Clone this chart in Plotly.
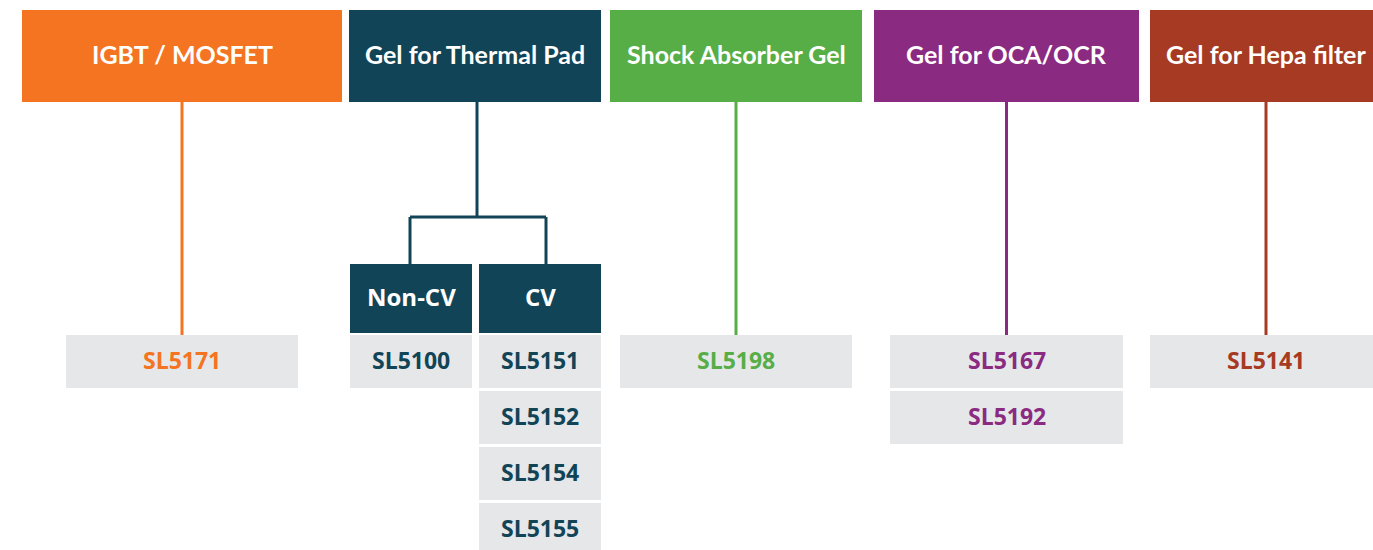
import plotly.graph_objects as go

# ---- data ----
categories = ["IGBT / MOSFET", "Gel for Thermal Pad", "Shock Absorber Gel",
              "Gel for OCA/OCR", "Gel for Hepa filter"]
category_colors = ["#F47421", "#124457", "#57AE47", "#8B2A81", "#A63A22"]
products = [["SL5171"], [], ["SL5198"], ["SL5167", "SL5192"], ["SL5141"]]
subgroups = ["Non-CV", "CV"]
subgroup_products = [["SL5100"], ["SL5151", "SL5152", "SL5154", "SL5155"]]

# ---- layout geometry ----
W, H = 1373, 550
header_x = [(22, 342), (349, 601), (610, 862), (874, 1139), (1150, 1382)]
header_y = (10, 102)
product_x = [(66, 298), None, (620, 852), (890, 1123), (1150, 1382)]
sub_x = [(350, 472), (479, 601)]
sub_y = (264, 333)
row_top, row_h, row_step = 335, 53, 56
branch_y = 217
branch_x = [410, 546]
gray = "#E6E7E8"
text_dy = -2

fig = go.Figure()
shapes, annots = [], []

def rect(x0, x1, y0, y1, color):
    shapes.append(dict(type="rect", xref="x", yref="y", x0=x0, x1=x1, y0=y0, y1=y1,
                       fillcolor=color, line=dict(width=0), layer="below"))

def line(x0, y0, x1, y1, color):
    shapes.append(dict(type="line", xref="x", yref="y", x0=x0, x1=x1, y0=y0, y1=y1,
                       line=dict(color=color, width=3)))

def text(x, y, s, color, size, family):
    annots.append(dict(x=x, y=y + text_dy, xref="x", yref="y", text="<b>%s</b>" % s,
                       showarrow=False, font=dict(color=color, size=size, family=family),
                       xanchor="center", yanchor="middle"))

hfont = "Lato"
pfont = "Open Sans"

for i, (cat, col) in enumerate(zip(categories, category_colors)):
    x0, x1 = header_x[i]
    rect(x0, x1, header_y[0], header_y[1], col)
    cx_head = (x0 + x1) / 2
    text(cx_head, (header_y[0] + header_y[1]) / 2, cat, "white", 25, hfont)
    if product_x[i] is not None:
        px0, px1 = product_x[i]
        cx = (px0 + px1) / 2
        line(cx, header_y[1], cx, row_top, col)
        for j, p in enumerate(products[i]):
            y0 = row_top + j * row_step
            rect(px0, px1, y0, y0 + row_h, gray)
            text(cx, y0 + row_h / 2, p, col, 23, pfont)
    else:
        cx = cx_head + 2
        line(cx, header_y[1], cx, branch_y, col)
        line(branch_x[0], branch_y, branch_x[1], branch_y, col)
        for k, sg in enumerate(subgroups):
            sx0, sx1 = sub_x[k]
            line(branch_x[k], branch_y, branch_x[k], sub_y[0], col)
            rect(sx0, sx1, sub_y[0], sub_y[1], col)
            text((sx0 + sx1) / 2, (sub_y[0] + sub_y[1]) / 2, sg, "white", 24, pfont)
            for j, p in enumerate(subgroup_products[k]):
                y0 = row_top + j * row_step
                rect(sx0, sx1, y0, y0 + row_h, gray)
                text((sx0 + sx1) / 2, y0 + row_h / 2, p, col, 23, pfont)

fig.add_trace(go.Scatter(x=[0, W], y=[0, H], mode="markers", marker=dict(opacity=0),
                         hoverinfo="skip", showlegend=False))
fig.update_layout(
    width=W, height=H, margin=dict(l=0, r=0, t=0, b=0),
    paper_bgcolor="white", plot_bgcolor="white",
    xaxis=dict(range=[0, W], visible=False, fixedrange=True),
    yaxis=dict(range=[H, 0], visible=False, fixedrange=True),
    shapes=shapes, annotations=annots, showlegend=False,
)
fig.write_html("out.html", config={"displayModeBar": False},
               post_script="document.body.style.margin='0';document.body.style.overflow='hidden';")
